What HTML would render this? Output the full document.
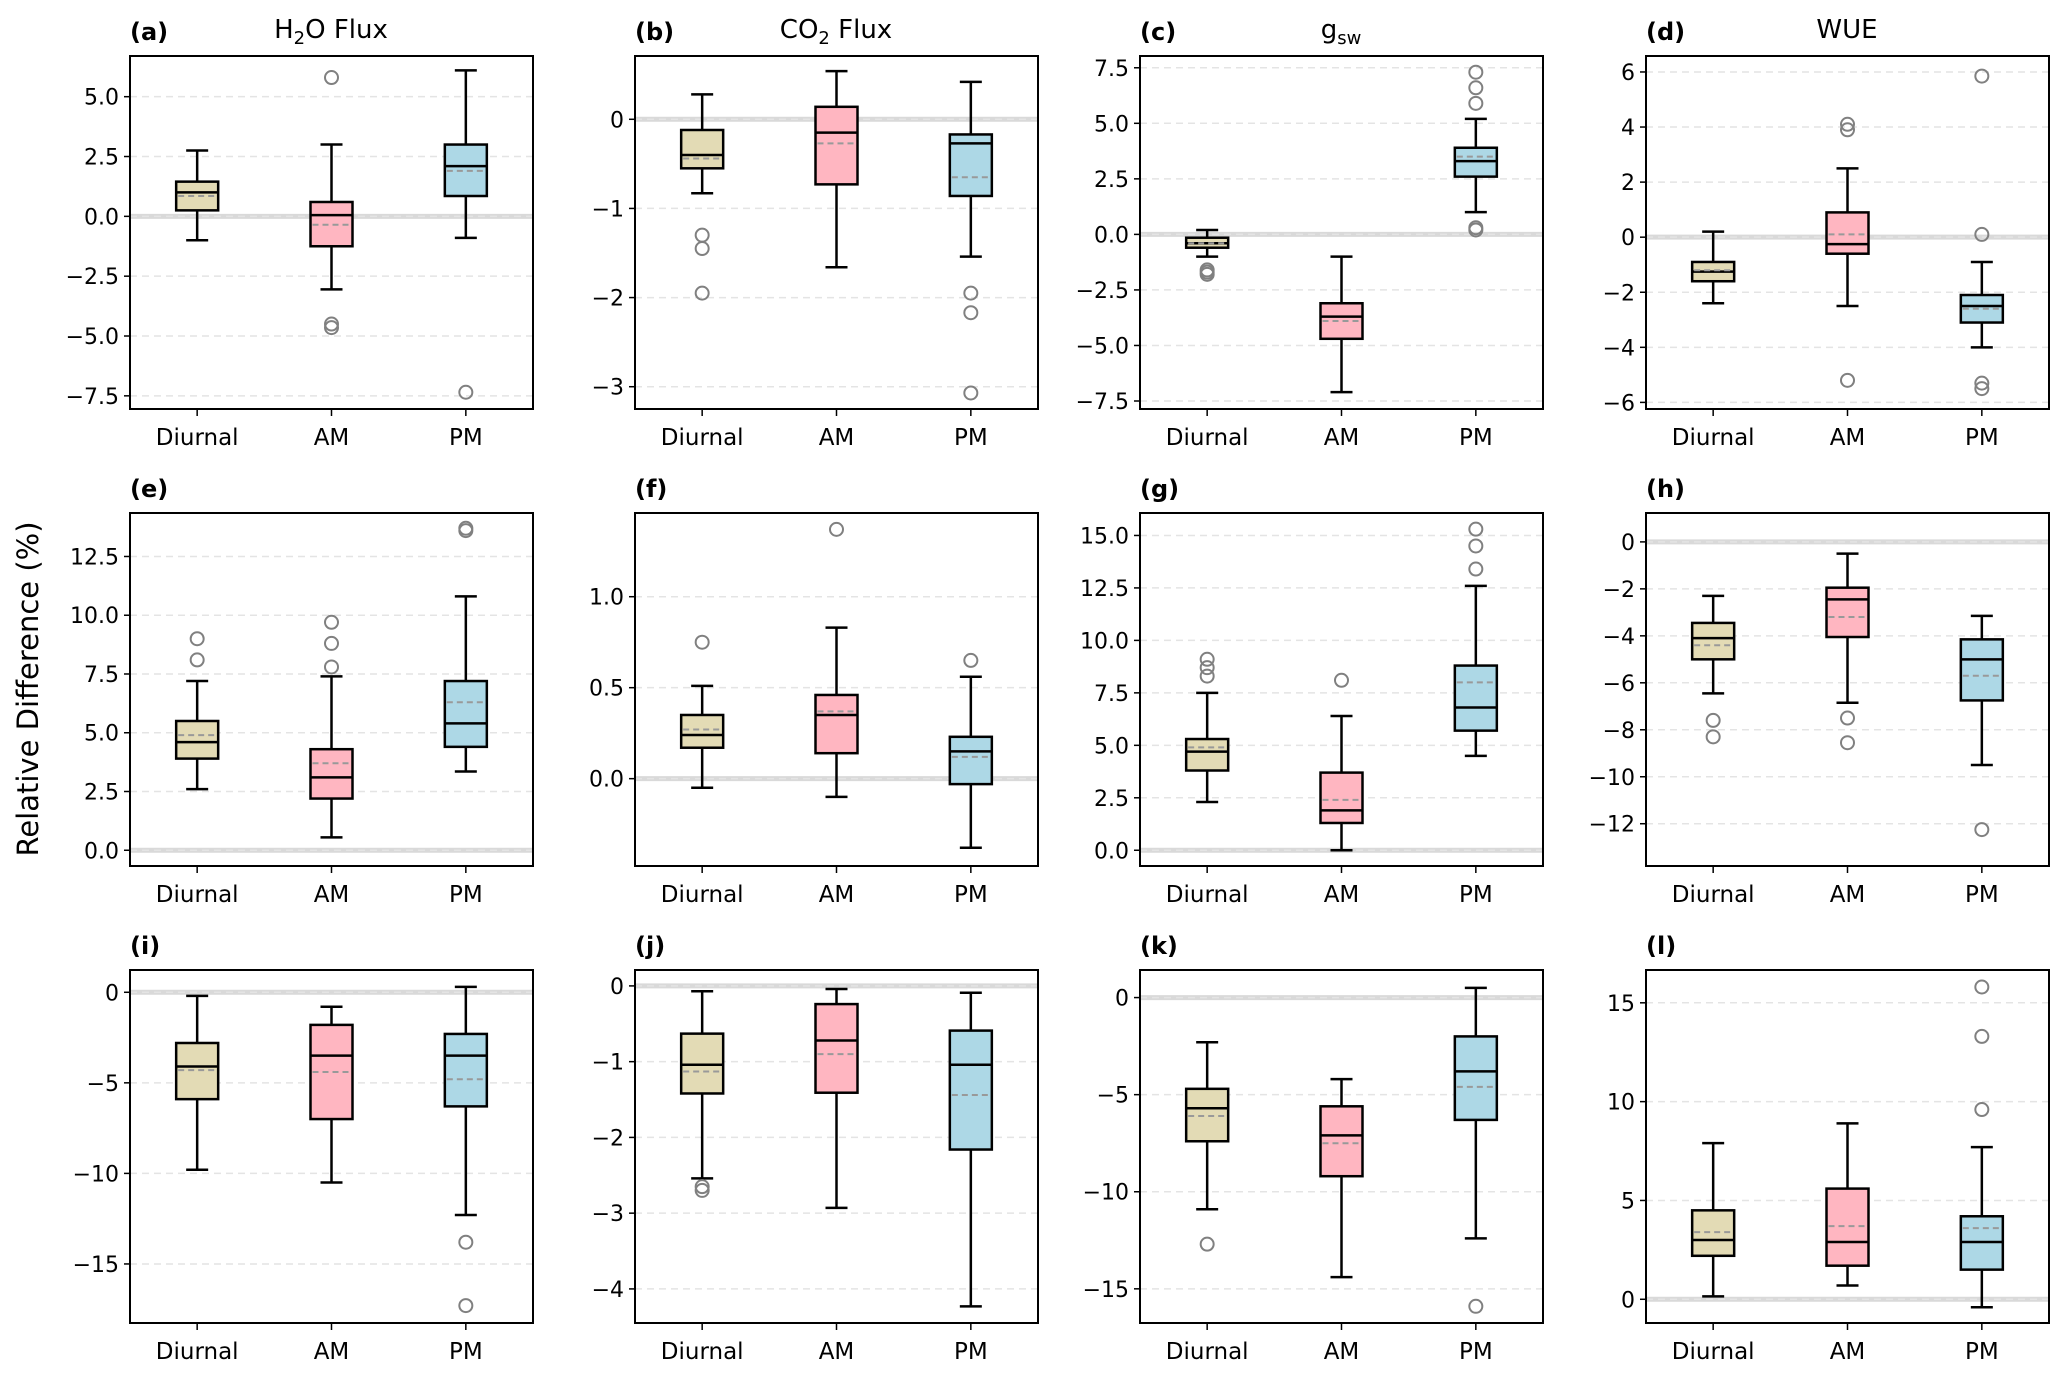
<!DOCTYPE html>
<html><head><meta charset="utf-8"><style>
body{margin:0;background:#fff}
svg{display:block;font-family:"DejaVu Sans","Liberation Sans",sans-serif}
</style></head><body>
<svg id="fig" width="2067" height="1377" viewBox="0 0 2067 1377"></svg>
<script>
const categories=["Diurnal","AM","PM"];
const fills=["#e3dbb5","#ffb6c1","#add8e6"];
const panelLetters=["(a)","(b)","(c)","(d)","(e)","(f)","(g)","(h)","(i)","(j)","(k)","(l)"];
const yLimits=[[-8.05,6.7],[-3.25,0.71],[-7.86,8.03],[-6.24,6.58],[-0.67,14.35],[-0.48,1.46],[-0.75,16.07],[-13.8,1.23],[-18.26,1.23],[-4.45,0.21],[-16.76,1.42],[-1.2,16.66]];
const yTicks=[[-7.5,-5,-2.5,0,2.5,5],[-3,-2,-1,0],[-7.5,-5,-2.5,0,2.5,5,7.5],[-6,-4,-2,0,2,4,6],[0,2.5,5,7.5,10,12.5],[0,0.5,1.0],[0,2.5,5,7.5,10,12.5,15],[-12,-10,-8,-6,-4,-2,0],[-15,-10,-5,0],[-4,-3,-2,-1,0],[-15,-10,-5,0],[0,5,10,15]];
const tickDecimals=[1,0,1,0,1,1,1,0,0,0,0,0];
// per panel: [lo,q1,med,mean,q3,hi] for Diurnal, AM, PM
const stats=[
[[-1.0,0.25,1.0,0.85,1.45,2.75],[-3.05,-1.25,0.05,-0.35,0.6,3.0],[-0.9,0.85,2.1,1.9,3.0,6.1]],
[[-0.83,-0.55,-0.4,-0.44,-0.12,0.28],[-1.66,-0.73,-0.15,-0.27,0.14,0.54],[-1.54,-0.86,-0.27,-0.65,-0.17,0.42]],
[[-1.0,-0.6,-0.4,-0.4,-0.15,0.2],[-7.1,-4.7,-3.7,-3.9,-3.1,-1.0],[1.0,2.6,3.3,3.5,3.9,5.2]],
[[-2.4,-1.6,-1.25,-1.2,-0.9,0.2],[-2.5,-0.6,-0.25,0.1,0.9,2.5],[-4.0,-3.1,-2.5,-2.6,-2.1,-0.9]],
[[2.6,3.9,4.6,4.9,5.5,7.2],[0.55,2.2,3.1,3.7,4.3,7.4],[3.35,4.4,5.4,6.3,7.2,10.8]],
[[-0.05,0.17,0.24,0.27,0.35,0.51],[-0.1,0.14,0.35,0.37,0.46,0.83],[-0.38,-0.03,0.15,0.12,0.23,0.56]],
[[2.3,3.8,4.7,4.9,5.3,7.5],[0.0,1.3,1.9,2.4,3.7,6.4],[4.5,5.7,6.8,8.0,8.8,12.6]],
[[-6.45,-5.0,-4.1,-4.4,-3.45,-2.3],[-6.85,-4.05,-2.45,-3.2,-1.95,-0.5],[-9.5,-6.75,-5.0,-5.7,-4.15,-3.15]],
[[-9.8,-5.9,-4.1,-4.3,-2.8,-0.2],[-10.5,-7.0,-3.5,-4.4,-1.8,-0.8],[-12.3,-6.3,-3.5,-4.8,-2.3,0.3]],
[[-2.54,-1.42,-1.04,-1.13,-0.63,-0.07],[-2.93,-1.41,-0.72,-0.9,-0.24,-0.04],[-4.23,-2.16,-1.04,-1.44,-0.59,-0.09]],
[[-10.9,-7.4,-5.7,-6.1,-4.7,-2.3],[-14.4,-9.2,-7.1,-7.5,-5.6,-4.2],[-12.4,-6.3,-3.8,-4.6,-2.0,0.5]],
[[0.15,2.2,3.0,3.4,4.5,7.9],[0.7,1.7,2.9,3.7,5.6,8.9],[-0.4,1.5,2.9,3.6,4.2,7.7]]];
const outliers=[
[[],[5.8,-4.5,-4.65],[-7.35]],
[[-1.3,-1.45,-1.95],[],[-1.95,-2.17,-3.07]],
[[-1.6,-1.7,-1.8],[],[5.9,6.6,7.3,0.2,0.3]],
[[],[4.1,3.9,-5.2],[5.85,0.1,-5.3,-5.5]],
[[8.1,9.0],[7.8,8.8,9.7],[13.6,13.7]],
[[0.75],[1.37],[0.65]],
[[8.3,8.7,9.1],[8.1],[13.4,14.5,15.3]],
[[-7.6,-8.3],[-7.5,-8.55],[-12.25]],
[[],[],[-13.8,-17.3]],
[[-2.65,-2.7],[],[]],
[[-12.7],[],[-15.9]],
[[],[],[9.6,13.3,15.8]]];

const NS="http://www.w3.org/2000/svg";
const svg=document.getElementById('fig');
function mk(tag,attrs,parent){const e=document.createElementNS(NS,tag);for(const k in attrs)e.setAttribute(k,attrs[k]);(parent||svg).appendChild(e);return e;}
const colLeft=[130,635,1140,1646],rowTop=[56,513,970],W=403,H=353,BW=42,CAP=22;
function fmt(v,d){const s=Math.abs(v).toFixed(d);return (v<0?"\u2212":"")+s;}

for(let p=0;p<12;p++){
  const L=colLeft[p%4],T=rowTop[Math.floor(p/4)];
  const [ymin,ymax]=yLimits[p];
  const ys=v=>T+H-(v-ymin)/(ymax-ymin)*H;
  const xs=i=>L+W*(2*i+1)/6;
  const g=mk('g',{});
  
  
  yTicks[p].forEach(t=>{
    const y=ys(t);
    if(t===0){const z=mk('line',{x1:L,x2:L+W,y1:y,y2:y,stroke:'#d9d9d9','stroke-width':5},g);
      }
    const gl=mk('line',{x1:L,x2:L+W,y1:y,y2:y,stroke:'#e4e4e4','stroke-width':1.5,'stroke-dasharray':'7,5'},g);
    
    mk('line',{x1:L-6,x2:L,y1:y,y2:y,stroke:'#000','stroke-width':1.5},g);
    const tl=mk('text',{x:L-11,y:y+8,'text-anchor':'end','font-size':22,fill:'#000'},g);
    tl.textContent=fmt(t,tickDecimals[p]);
    
  });
  for(let i=0;i<3;i++){
    const s=stats[p][i],x=xs(i);
    const bg=mk('g',{},g);
    
    
    mk('line',{x1:x,x2:x,y1:ys(s[0]),y2:ys(s[1]),stroke:'#000','stroke-width':2.5},bg);
    mk('line',{x1:x,x2:x,y1:ys(s[4]),y2:ys(s[5]),stroke:'#000','stroke-width':2.5},bg);
    mk('line',{x1:x-CAP/2,x2:x+CAP/2,y1:ys(s[0]),y2:ys(s[0]),stroke:'#000','stroke-width':2.5},bg);
    mk('line',{x1:x-CAP/2,x2:x+CAP/2,y1:ys(s[5]),y2:ys(s[5]),stroke:'#000','stroke-width':2.5},bg);
    mk('rect',{x:x-BW/2,y:ys(s[4]),width:BW,height:ys(s[1])-ys(s[4]),fill:fills[i],stroke:'#000','stroke-width':2.5},bg);
    mk('line',{x1:x-BW/2,x2:x+BW/2,y1:ys(s[2]),y2:ys(s[2]),stroke:'#000','stroke-width':2.5},bg);
    mk('line',{x1:x-BW/2+2,x2:x+BW/2-2,y1:ys(s[3]),y2:ys(s[3]),stroke:'#999','stroke-width':2,'stroke-dasharray':'6,4'},bg);
    outliers[p][i].forEach(o=>{
      const c=mk('circle',{cx:x,cy:ys(o),r:6.5,fill:'none',stroke:'#808080','stroke-width':2},bg);
      
      
    });
    mk('line',{x1:x,x2:x,y1:T+H,y2:T+H+7,stroke:'#000','stroke-width':1.5},g);
    const xl=mk('text',{x:x,y:T+H+36,'text-anchor':'middle','font-size':23,fill:'#000'},g);
    xl.textContent=categories[i];
    
  }
  mk('rect',{x:L,y:T,width:W,height:H,fill:'none',stroke:'#000','stroke-width':2},g);
  const pl=mk('text',{x:L,y:T-16,'font-size':24,'font-weight':'bold',fill:'#000'},g);
  pl.textContent=panelLetters[p];
  
}
function title(cx,html,name){const t=mk('text',{x:cx,y:38,'text-anchor':'middle','font-size':26,fill:'#000'});t.innerHTML=html;
  }
title(331,'H<tspan font-size="18" dy="6">2</tspan><tspan dy="-6">O Flux</tspan>','title-h2o-flux');
title(836,'CO<tspan font-size="18" dy="6">2</tspan><tspan dy="-6"> Flux</tspan>','title-co2-flux');
title(1341,'g<tspan font-size="18" dy="6">sw</tspan>','title-gsw');
title(1847,'WUE','title-wue');
const yl=mk('text',{x:0,y:0,'text-anchor':'middle','font-size':29,fill:'#000',transform:'translate(38,689) rotate(-90)'});
yl.textContent='Relative Difference (%)';


</script>
</body></html>
